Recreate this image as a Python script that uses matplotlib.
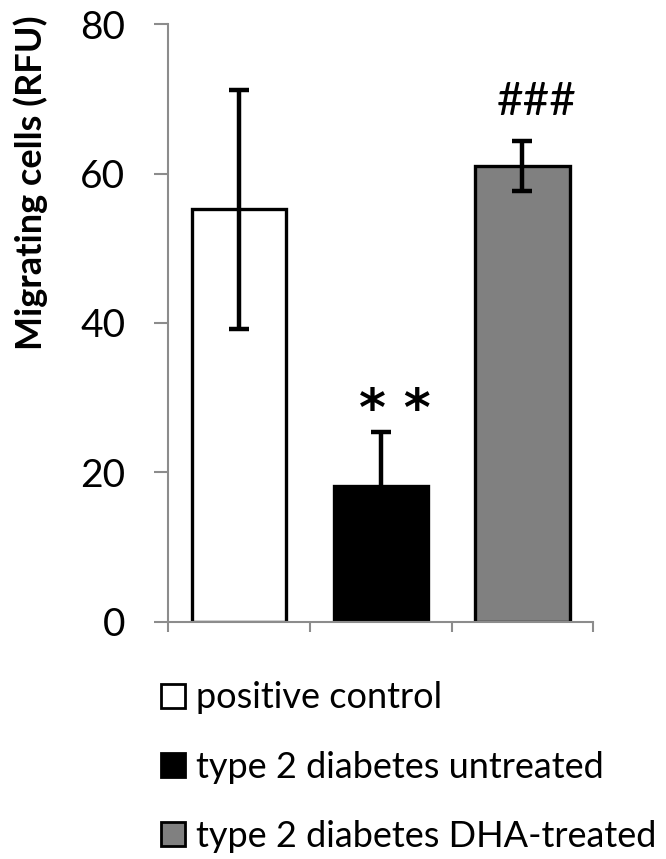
import numpy as np
import matplotlib
matplotlib.use("Agg")
import matplotlib.pyplot as plt
from matplotlib.patches import Patch

# DATA
groups = ["positive control", "type 2 diabetes untreated", "type 2 diabetes DHA-treated"]
means = [55.2, 18.1, 61.0]
errors = [16.0, 7.3, 3.4]
colors = ["white", "black", "#808080"]
marks = ["", "* *", "###"]
yticks = [0, 20, 40, 60, 80]

plt.rcParams["font.family"] = ["Lato", "DejaVu Sans"]

fig = plt.figure(figsize=(6.66, 8.59), dpi=100)
ax = fig.add_axes([0.2527, 0.2763, 0.8908 - 0.2527, 0.6956])

x = np.arange(len(groups))
bars = ax.bar(x, means, width=0.665, color=colors, edgecolor="black",
              linewidth=2.4, zorder=2)
ax.errorbar(x, means, yerr=errors, fmt="none", ecolor="black",
            elinewidth=3.2, capsize=7, capthick=3.2, zorder=3)

# significance marks
for xi, m, e, s in zip(x, means, errors, marks):
    if s == "* *":
        ax.text(xi + 0.1, m + e - 0.5, s, ha="center", va="bottom",
                fontsize=37, fontweight="bold", family="DejaVu Sans")
    elif s:
        ax.text(xi + 0.1, m + e + 2.4, s, ha="center", va="bottom",
                fontsize=33)

ax.set_xlim(-0.5, 2.5)
ax.set_ylim(0, 80)
ax.set_yticks(yticks)
ax.tick_params(axis="y", labelsize=28, length=10, width=1.5,
               color="#8c8c8c", pad=21, direction="out")
ax.set_xticks([-0.5, 0.5, 1.5, 2.5])
ax.set_xticklabels([])
ax.tick_params(axis="x", length=7, width=1.5, color="#8c8c8c", direction="out")

for side in ["top", "right"]:
    ax.spines[side].set_visible(False)
for side in ["left", "bottom"]:
    ax.spines[side].set_color("#8c8c8c")
    ax.spines[side].set_linewidth(1.5)
    ax.spines[side].set_zorder(4)

fig.text(31 / 666, 1 - 183 / 859, "Migrating cells (RFU)", rotation=90,
         ha="center", va="center", fontsize=26, fontweight="bold")

handles = [Patch(facecolor=c, edgecolor="black", linewidth=2) for c in colors]
fig.legend(handles, groups, loc="upper left",
           bbox_to_anchor=(128 / 666, 1 - 649 / 859), frameon=False,
           fontsize=26, handlelength=0.67, handleheight=0.67,
           handletextpad=0.3, labelspacing=1.0)

plt.savefig("out.png", dpi=100)
